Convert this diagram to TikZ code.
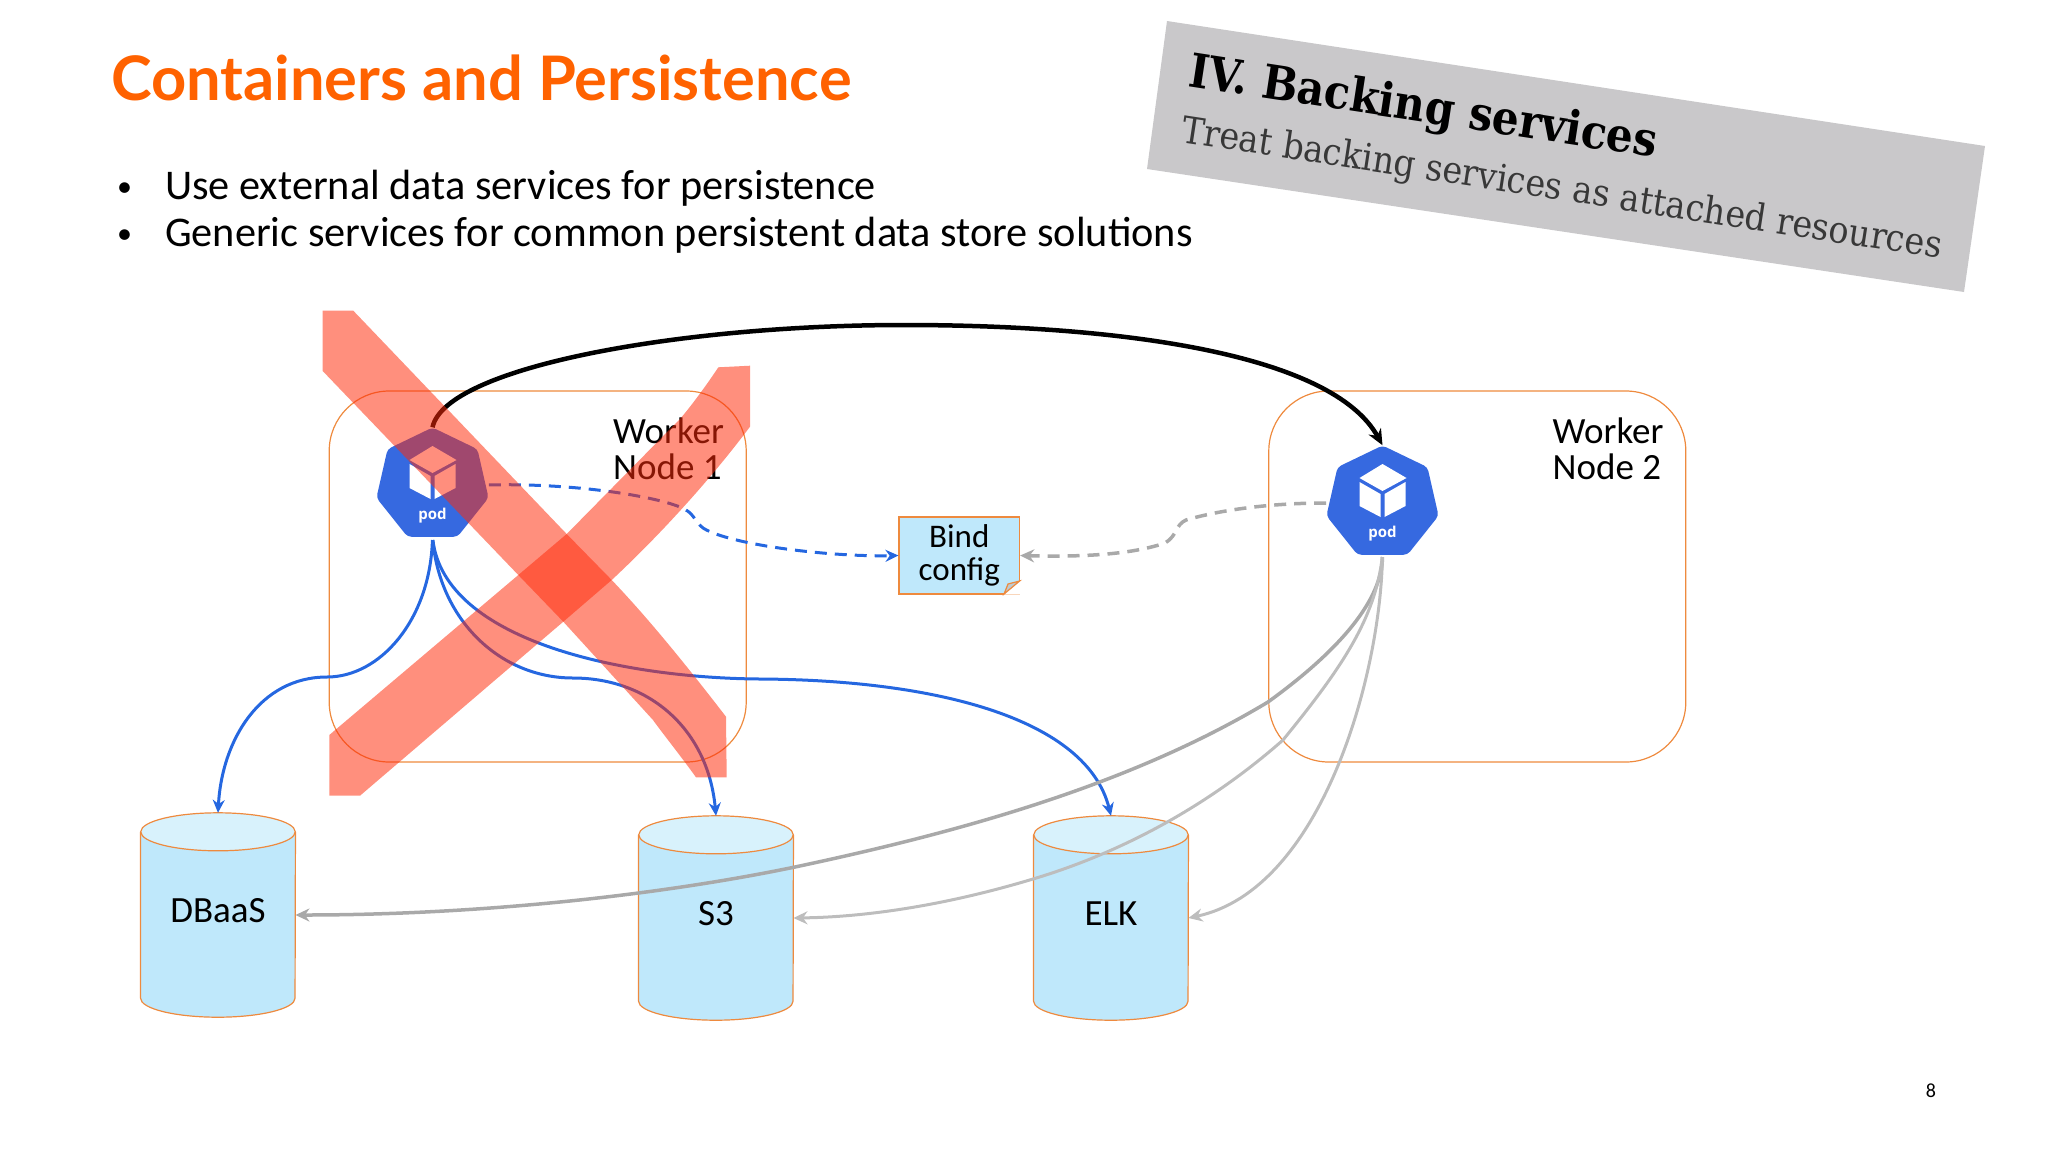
\documentclass[tikz,border=0pt]{standalone}
\usepackage{fontspec}
\setmainfont{Carlito}
\newfontfamily\titlefont{Lato}
\newfontfamily\podfont{Open Sans}
\newfontfamily\bannerfont{DejaVu Serif Condensed}
\usetikzlibrary{shapes.geometric,arrows.meta}
\definecolor{ingorange}{HTML}{FF6200}
\definecolor{edgeorange}{HTML}{EE8A3E}
\definecolor{podblue}{HTML}{3669E0}
\definecolor{linkblue}{HTML}{2567E0}
\definecolor{storeblue}{HTML}{BFE8FB}
\definecolor{storetop}{HTML}{D8F2FC}
\definecolor{linkgray}{HTML}{A9A9A9}
\definecolor{paleglink}{HTML}{BDBDBD}
\definecolor{bannergray}{HTML}{C9C8CA}
\definecolor{crossred}{RGB}{255,43,10}
\newcommand*\podcube[1]{
\begin{scope}[shift={(#1)}]
    \fill[white] (0,-39) -- (24,-25) -- (0,-12) -- (-23,-25) -- cycle;
    \fill[white] (-23,-21) -- (-2,-9) -- (-2,14) -- (-23,3) -- cycle;
    \fill[white] (23,-21) -- (2,-9) -- (2,14) -- (23,3) -- cycle;
\end{scope}}
\newcommand*\storecan[1]{
    \filldraw[can, fill=storeblue] ([yshift=-19pt]#1.north west) -- ([yshift=19pt]#1.south west)
        arc[start angle=180, end angle=360, x radius=77.25pt, y radius=19pt]
        -- ([yshift=-19pt]#1.north east);
    \filldraw[can, fill=storetop] ([yshift=-19pt]#1.north) ellipse[x radius=77.25pt, y radius=19pt];}
\tikzset{
    worker/.style={draw=edgeorange, line width=1.2pt, rounded corners=60pt, minimum width=417pt, minimum height=371pt},
    can/.style={draw=edgeorange, line width=1.2pt},
    store/.style={inner sep=0pt, minimum width=154.5pt, minimum height=204pt},
    storetext/.style={inner sep=0pt, font=\fontsize{37}{40}\selectfont},
    pod/.style={regular polygon, regular polygon sides=7, fill=podblue, rounded corners=4pt, minimum size=115pt, inner sep=0pt},
    podtext/.style={text=white, font=\podfont\bfseries\fontsize{15}{16}\selectfont},
    body/.style={anchor=base west, inner sep=0pt, font=\fontsize{42.3}{44}\selectfont},
    worktext/.style={anchor=north west, inner sep=0pt, align=left, font=\fontsize{37}{36}\selectfont},
    bluelink/.style={draw=linkblue, line width=3pt, -{Stealth[length=13pt,width=12pt]}},
    graylink/.style={draw=linkgray, line width=3.5pt, -{Stealth[length=14pt,width=13pt]}},
    palelink/.style={draw=paleglink, line width=3pt, -{Stealth[length=14pt,width=13pt]}},
    cross/.style={fill=crossred, fill opacity=0.53}
}
\begin{document}
\begin{tikzpicture}[x=1pt,y=-1pt]
\useasboundingbox (0,0) rectangle (2048,1152);
% heading and bullets
\node[anchor=base west, inner sep=0pt, text=ingorange, font=\titlefont\bfseries\fontsize{61.4}{62}\selectfont] (title) at (111,100) {Containers and Persistence};
\node[body, font=\fontsize{30}{30}\selectfont] (dot1) at (117,196) {\textbullet};
\node[body, font=\fontsize{30}{30}\selectfont] (dot2) at (117,243) {\textbullet};
\node[body] (line1) at (165,199) {Use external data services for persistence};
\node[body] (line2) at (165,246) {Generic services for common persistent data store solutions};
% grey banner
\fill[bannergray] (1167,21) -- (1985,146) -- (1964,292) -- (1147,169) -- cycle;
\node[anchor=base west, inner sep=0pt, rotate=-8.7, font=\bannerfont\bfseries\fontsize{47}{48}\selectfont] (factor) at (1187,86) {IV. Backing services};
\node[anchor=base west, inner sep=0pt, rotate=-8.7, text=black!78, font=\bannerfont\fontsize{37.2}{38}\selectfont] (factorsub) at (1180,142) {Treat backing services as attached resources};
% worker boxes
\node[worker] (worker1) at (537.7,576.5) {};
\node[worker] (worker2) at (1477.3,576.5) {};
\node[worktext] (work1) at (613,418) {Worker\\Node 1};
\node[worktext] (work2) at (1552.5,418) {Worker\\Node 2};
% stores
\foreach \name/\px/\py/\tx/\ty in {dbaas/218/915/DBaaS/911,sthree/716/918/S3/914,elk/1111/918/ELK/914}{
    \node[store] (\name) at (\px,\py) {};
    \storecan{\name}
    \node[storetext] (\name text) at (\px,\ty) {\tx};
}
% config note
\node[draw=edgeorange, line width=1.2pt, fill=storeblue, minimum width=120.5pt, minimum height=77pt, inner sep=0pt, align=center, font=\fontsize{33}{33}\selectfont] (bind) at (959.3,555.5) {Bind\\config};
\fill[white] (1004,594.6) -- (1020.2,594.6) -- (1020.2,581) -- cycle;
\draw[draw=edgeorange, line width=1.2pt, fill=paleglink!70!storeblue] (1004,594) -- (1019.6,581) -- (1008,584) -- cycle;
% pods
\node[pod] (pod1) at (432.5,485) {};
\node[pod] (pod2) at (1382.5,503) {};
\podcube{pod1}
\podcube{pod2}
\node[podtext] (podname1) at ([yshift=-31pt]pod1.center) {pod};
\node[podtext] (podname2) at ([yshift=-31pt]pod2.center) {pod};
% move of the pod
\draw[line width=4.5pt, -{Stealth[length=16pt,width=14pt]}] (pod1.north) .. controls (445.5,367) and (681,325) .. (904,325) .. controls (1122,325) and (1332,354) .. (pod2.north);
% config links
\draw[bluelink, dashed, dash pattern=on 12pt off 8pt, shorten <=3pt] (pod1.east) .. controls (570,483) and (650,495) .. (680,507) .. controls (695,513) and (693,520) .. (703,528) .. controls (730,545) and (830,557) .. (bind.west);
\draw[graylink, dashed, dash pattern=on 12pt off 8pt, shorten <=3pt] (pod2.west) .. controls (1270,503) and (1220,510) .. (1186,520) .. controls (1175,525) and (1178,535) .. (1165,543) .. controls (1130,555) and (1080,557) .. (bind.east);
% blue links
\draw[bluelink, shorten <=3pt] (pod1.south) .. controls (430,620) and (380,677) .. (327,677) .. controls (260,677) and (222,740) .. (dbaas.north);
\draw[bluelink, shorten <=3pt] (pod1.south) .. controls (440,620) and (500,678) .. (573,678) .. controls (650,678) and (708,730) .. (sthree.north);
\draw[bluelink, shorten <=3pt] (pod1.south) .. controls (445,640) and (620,678) .. (760,679) .. controls (940,680) and (1087,720) .. (elk.north);
% grey links
\draw[graylink, shorten <=2pt] (pod2.south) .. controls (1382,600) and (1340,650) .. (1268,702) .. controls (1130,785) and (960,832) .. (795,867) .. controls (660,895) and (480,915) .. (dbaas.east);
\draw[palelink, shorten <=2pt] (pod2.south) .. controls (1375,620) and (1340,670) .. (1283,740) .. controls (1215,800) and (1130,850) .. (1033,879) .. controls (950,904) and (870,917) .. (sthree.east);
\draw[palelink, shorten <=2pt] (pod2.south) .. controls (1380,680) and (1320,890) .. (elk.east);
% the big cross
\fill[cross] (322.7,310.7) -- (353.3,310.7) -- (566.7,534) -- (611.7,580) .. controls (650,620) and (690,670) .. (726,716.7) -- (726.7,777.3) -- (696,777.3) .. controls (680,755) and (660,730) .. (653,720) -- (563.3,621.7) -- (518.3,575) -- (322.7,371) -- cycle;
\fill[cross] (329.3,735) -- (329.3,795.7) -- (360,795.7) -- (563.3,621.7) -- (611.7,580) .. controls (660,535) and (710,480) .. (750,426.7) -- (750,365.7) -- (718.3,367.3) .. controls (700,395) and (680,420) .. (676,423) -- (566.7,534) -- (518.3,575) -- cycle;
\node[anchor=center, inner sep=0pt, font=\fontsize{20}{20}\selectfont] (pagenum) at (1931,1091) {8};
\end{tikzpicture}
\end{document}
